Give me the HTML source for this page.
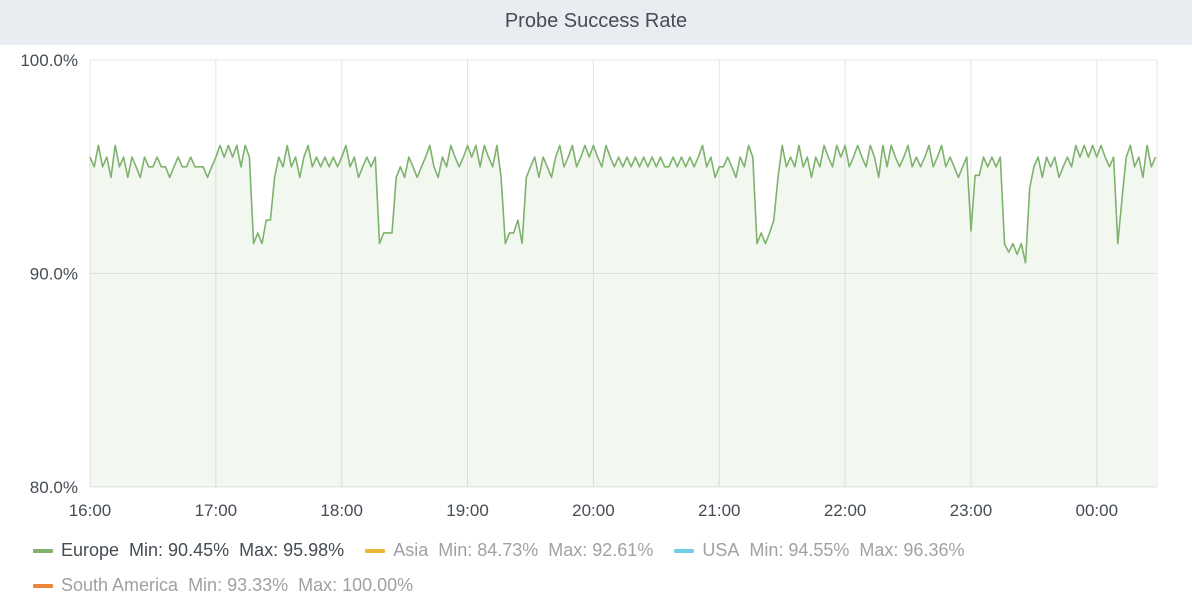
<!DOCTYPE html>
<html><head><meta charset="utf-8">
<style>
body{margin:0;width:1192px;height:607px;background:#fff;font-family:"Liberation Sans",sans-serif;overflow:hidden;position:relative}
#title{position:absolute;left:0;top:0;width:1192px;height:45px;background:#e9edf2;text-align:center;line-height:43px;font-size:20px;color:#464c54}
svg{position:absolute;left:0;top:0}
.leg{position:absolute;font-size:18px;color:#9fa1a5;white-space:nowrap}
.leg i{display:inline-block;width:20px;height:4px;margin-right:8px;vertical-align:middle;border-radius:1px}
.leg span{margin-right:16px}
</style></head><body>
<div id="title">Probe Success Rate</div>
<svg id="chart" width="1192" height="540"></svg>
<div class="leg" style="left:33px;top:540px">
<span style="color:#464c54"><i style="background:#7eb26d"></i>Europe&nbsp; Min: 90.45%&nbsp; Max: 95.98%</span>
<span><i style="background:#eab839"></i>Asia&nbsp; Min: 84.73%&nbsp; Max: 92.61%</span>
<span><i style="background:#6ed0e0"></i>USA&nbsp; Min: 94.55%&nbsp; Max: 96.36%</span>
</div>
<div class="leg" style="left:33px;top:575px">
<span><i style="background:#ef843c"></i>South America&nbsp; Min: 93.33%&nbsp; Max: 100.00%</span>
</div>
<script>
const yTicks=[100,90,80];
const xTickLabels=["16:00","17:00","18:00","19:00","20:00","21:00","22:00","23:00","00:00"];
const stepMinutes=2;
const europe=[
95.45,95.0,96.0,95.0,95.45,94.5,96.0,95.0,95.45,94.5,
95.45,95.0,94.5,95.45,95.0,95.0,95.45,95.0,95.0,94.5,
95.0,95.45,95.0,95.0,95.45,95.0,95.0,95.0,94.5,95.0,
95.45,96.0,95.45,96.0,95.45,96.0,95.0,96.0,95.45,91.4,
91.9,91.4,92.5,92.5,94.5,95.45,95.0,96.0,95.0,95.45,
94.5,95.45,96.0,95.0,95.45,95.0,95.45,95.0,95.45,95.0,
95.45,96.0,95.0,95.45,94.5,95.0,95.45,95.0,95.45,91.4,
91.9,91.9,91.9,94.5,95.0,94.5,95.45,95.0,94.5,95.0,
95.45,96.0,95.0,94.5,95.45,95.0,96.0,95.45,95.0,95.45,
96.0,95.45,96.0,95.0,96.0,95.45,95.0,96.0,94.5,91.4,
91.9,91.9,92.5,91.4,94.5,95.0,95.45,94.5,95.45,95.0,
94.5,95.45,96.0,95.0,95.45,96.0,95.0,95.45,96.0,95.45,
96.0,95.45,95.0,96.0,95.45,95.0,95.45,95.0,95.45,95.0,
95.45,95.0,95.45,95.0,95.45,95.0,95.45,95.0,95.0,95.45,
95.0,95.45,95.0,95.45,95.0,95.45,96.0,95.0,95.45,94.5,
95.0,95.0,95.45,95.0,94.5,95.45,95.0,96.0,95.45,91.4,
91.9,91.4,91.9,92.5,94.5,96.0,95.0,95.45,95.0,96.0,
95.0,95.45,94.5,95.45,95.0,96.0,95.45,95.0,96.0,95.45,
96.0,95.0,95.45,96.0,95.45,95.0,96.0,95.45,94.5,96.0,
95.0,96.0,95.45,95.0,95.45,96.0,95.0,95.45,95.0,95.45,
96.0,95.0,95.45,96.0,95.0,95.45,95.0,94.5,95.0,95.45,
92.0,94.6,94.6,95.45,95.0,95.45,95.0,95.45,91.4,91.0,
91.4,90.9,91.4,90.5,94.0,95.0,95.45,94.5,95.45,95.0,
95.45,94.5,95.0,95.45,95.0,96.0,95.45,96.0,95.45,96.0,
95.45,96.0,95.45,95.0,95.45,91.4,93.5,95.45,96.0,95.0,
95.45,94.5,96.0,95.0,95.45];
const svg=document.getElementById('chart');const NS='http://www.w3.org/2000/svg';
const L=90,R=1157,T=60,B=487;
const y=v=>T+(100-v)/(100-80)*(B-T);
const x=m=>L+m*2.0975;
function mk(t,a){const e=document.createElementNS(NS,t);for(const k in a)e.setAttribute(k,a[k]);svg.appendChild(e);return e;}
yTicks.forEach(v=>{
const g=mk('line',{x1:L,x2:R,y1:y(v),y2:y(v),stroke:'#e4e4e4','stroke-width':1});


const t=mk('text',{x:78,y:y(v)+6,'text-anchor':'end','font-size':17,fill:'#464c54','font-family':'Liberation Sans, sans-serif'});
t.textContent=v.toFixed(1)+'%';


});
xTickLabels.forEach((s,i)=>{
const xx=x(i*60);
const g=mk('line',{x1:xx,x2:xx,y1:T,y2:B,stroke:'#e4e4e4','stroke-width':1});


const t=mk('text',{x:xx,y:516,'text-anchor':'middle','font-size':17,fill:'#464c54','font-family':'Liberation Sans, sans-serif'});
t.textContent=s;


});
const rl=mk('line',{x1:R,x2:R,y1:T,y2:B,stroke:'#e4e4e4'});


let pts=europe.map((v,i)=>x(i*stepMinutes).toFixed(1)+','+y(v).toFixed(1));
const area=mk('polygon',{points:x(0)+','+B+' '+pts.join(' ')+' '+x((europe.length-1)*stepMinutes)+','+B,fill:'#7eb26d','fill-opacity':0.1});


const line=mk('polyline',{points:pts.join(' '),fill:'none',stroke:'#7eb26d','stroke-width':1.6,'stroke-linejoin':'round'});


</script>
</body></html>
